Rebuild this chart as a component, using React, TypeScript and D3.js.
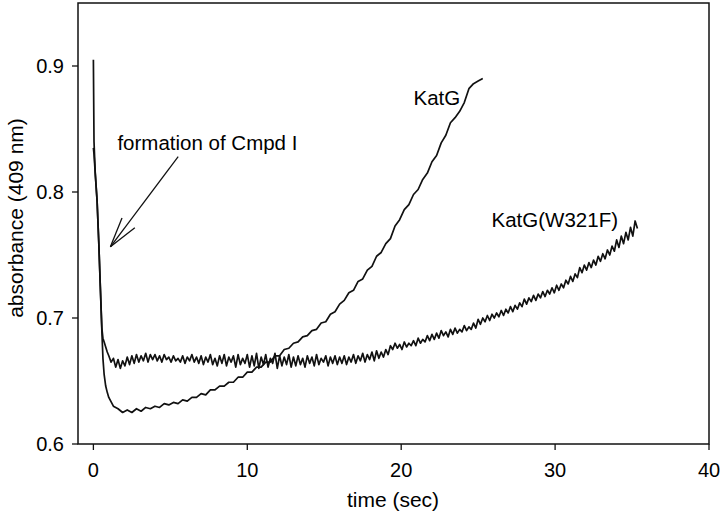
import React from "react";
import * as d3 from "d3";

// ---------- data ----------
const xTicks = [0, 10, 20, 30, 40];
const yTicks = [0.6, 0.7, 0.8, 0.9];
const xDomain = [-1, 40];
const yDomain = [0.6, 0.95];

// initial fast decay (time s, absorbance)
const katgHead: [number, number][] = [
  [0, 0.905], [0.04, 0.84], [0.12, 0.815], [0.24, 0.793], [0.35, 0.76],
  [0.45, 0.725], [0.55, 0.69], [0.62, 0.668], [0.7, 0.655], [0.8, 0.646], [0.9, 0.641],
];
const w321fHead: [number, number][] = [
  [0, 0.835], [0.04, 0.83], [0.12, 0.815], [0.24, 0.793], [0.35, 0.76],
  [0.45, 0.725], [0.55, 0.692], [0.62, 0.684], [0.7, 0.681], [0.8, 0.677], [0.9, 0.673],
];

// sampled traces after 1 s
const katgStart = 1.0;
const katgStep = 0.3;
const katgValues = [
  0.637, 0.630, 0.628, 0.625, 0.627, 0.625, 0.628, 0.626, 0.629, 0.628,
  0.630, 0.629, 0.632, 0.631, 0.633, 0.632, 0.635, 0.634, 0.637, 0.637,
  0.640, 0.639, 0.643, 0.643, 0.646, 0.646, 0.649, 0.649, 0.653, 0.653,
  0.657, 0.657, 0.661, 0.661, 0.665, 0.665, 0.670, 0.670, 0.675, 0.676,
  0.680, 0.681, 0.685, 0.686, 0.690, 0.691, 0.696, 0.697, 0.703, 0.705,
  0.711, 0.714, 0.720, 0.722, 0.729, 0.731, 0.738, 0.741, 0.749, 0.752,
  0.759, 0.763, 0.773, 0.778, 0.786, 0.790, 0.798, 0.802, 0.810, 0.815,
  0.824, 0.829, 0.839, 0.845, 0.855, 0.859, 0.864, 0.871, 0.882, 0.886,
  0.888, 0.890,
];

const w321fStart = 1.0;
const w321fStep = 0.15;
const w321fValues = [
  0.670, 0.665, 0.668, 0.661, 0.667, 0.660, 0.666, 0.662, 0.669, 0.663, 0.670, 0.664, 0.671, 0.665, 0.670, 0.666, 0.672, 0.665, 0.671, 0.667,
  0.671, 0.666, 0.670, 0.665, 0.671, 0.667, 0.669, 0.665, 0.670, 0.666, 0.668, 0.665, 0.670, 0.664, 0.669, 0.666, 0.671, 0.665, 0.669, 0.664,
  0.670, 0.663, 0.669, 0.665, 0.671, 0.663, 0.668, 0.662, 0.670, 0.664, 0.671, 0.662, 0.669, 0.665, 0.670, 0.661, 0.671, 0.663, 0.668, 0.664,
  0.671, 0.661, 0.670, 0.662, 0.672, 0.660, 0.669, 0.663, 0.671, 0.661, 0.668, 0.664, 0.672, 0.660, 0.670, 0.662, 0.669, 0.663, 0.671, 0.661,
  0.669, 0.662, 0.670, 0.663, 0.668, 0.661, 0.670, 0.664, 0.669, 0.662, 0.671, 0.663, 0.668, 0.665, 0.670, 0.662, 0.669, 0.664, 0.670, 0.663,
  0.669, 0.664, 0.670, 0.663, 0.669, 0.665, 0.671, 0.664, 0.670, 0.666, 0.672, 0.665, 0.671, 0.667, 0.673, 0.666, 0.674, 0.668, 0.673, 0.669,
  0.675, 0.671, 0.678, 0.675, 0.680, 0.676, 0.679, 0.675, 0.681, 0.677, 0.680, 0.678, 0.682, 0.678, 0.684, 0.680, 0.683, 0.681, 0.686, 0.682,
  0.687, 0.683, 0.688, 0.684, 0.690, 0.686, 0.689, 0.685, 0.691, 0.687, 0.692, 0.688, 0.691, 0.689, 0.694, 0.690, 0.693, 0.691, 0.696, 0.692,
  0.699, 0.695, 0.700, 0.697, 0.702, 0.698, 0.703, 0.700, 0.704, 0.701, 0.706, 0.702, 0.707, 0.704, 0.709, 0.705, 0.710, 0.707, 0.712, 0.709,
  0.715, 0.711, 0.716, 0.713, 0.718, 0.714, 0.719, 0.716, 0.721, 0.717, 0.722, 0.719, 0.724, 0.720, 0.726, 0.722, 0.727, 0.724, 0.730, 0.727,
  0.733, 0.729, 0.735, 0.732, 0.740, 0.736, 0.742, 0.738, 0.744, 0.740, 0.746, 0.742, 0.749, 0.745, 0.751, 0.747, 0.754, 0.750, 0.757, 0.753,
  0.762, 0.756, 0.765, 0.759, 0.768, 0.762, 0.772, 0.765, 0.777, 0.771,
];

// annotations (data units)
const labelKatG = { text: "KatG", t: 20.8, v: 0.869 };
const labelW321F = { text: "KatG(W321F)", t: 25.87, v: 0.772 };
const labelCmpd = { text: "formation of Cmpd I", t: 1.56, v: 0.833 };
const arrowFrom = { t: 5.51, v: 0.828 };
const arrowTo = { t: 1.106, v: 0.7565 };

// ---------- chart ----------
const W = 720;
const H = 518;
const M = { left: 78, right: 709, top: 3, bottom: 444 };
const FONT = "'Liberation Sans', Arial, sans-serif";

export default function App() {
  const x = d3.scaleLinear().domain(xDomain).range([M.left, M.right]);
  const y = d3.scaleLinear().domain(yDomain).range([M.bottom, M.top]);

  const katg: [number, number][] = [
    ...katgHead,
    ...katgValues.map((v, i) => [katgStart + i * katgStep, v] as [number, number]),
  ];
  const w321f: [number, number][] = [
    ...w321fHead,
    ...w321fValues.map((v, i) => [w321fStart + i * w321fStep, v] as [number, number]),
  ];

  const line = d3
    .line<[number, number]>()
    .x((d) => x(d[0]))
    .y((d) => y(d[1]));

  // arrow geometry
  const ax1 = x(arrowFrom.t), ay1 = y(arrowFrom.v);
  const ax2 = x(arrowTo.t), ay2 = y(arrowTo.v);
  const ang = Math.atan2(ay1 - ay2, ax1 - ax2);
  const headLen = 31;
  const spread = (15 * Math.PI) / 180;
  const b1 = [ax2 + headLen * Math.cos(ang - spread), ay2 + headLen * Math.sin(ang - spread)];
  const b2 = [ax2 + headLen * Math.cos(ang + spread), ay2 + headLen * Math.sin(ang + spread)];

  const stroke = "#111";

  return (
    <svg
      width={W}
      height={H}
      style={{ position: "absolute", left: 0, top: 0, background: "#fff" }}
      fontFamily={FONT}
    >
      <rect x={0} y={0} width={W} height={H} fill="#fff" />
      {/* frame */}
      <rect
        x={M.left}
        y={M.top}
        width={M.right - M.left}
        height={M.bottom - M.top}
        fill="none"
        stroke={stroke}
        strokeWidth={1.5}
      />
      {/* y ticks */}
      {yTicks.map((t) => (
        <g key={"y" + t}>
          <line x1={M.left - 6} x2={M.left} y1={y(t)} y2={y(t)} stroke={stroke} strokeWidth={1.3} />
          <text x={M.left - 14} y={y(t)} dy="0.36em" textAnchor="end" fontSize={20} fill="#000">
            {d3.format(".1f")(t)}
          </text>
        </g>
      ))}
      {/* x ticks */}
      {xTicks.map((t) => (
        <g key={"x" + t}>
          <line x1={x(t)} x2={x(t)} y1={M.bottom} y2={M.bottom + 6} stroke={stroke} strokeWidth={1.3} />
          <text x={x(t)} y={M.bottom + 33} textAnchor="middle" fontSize={20} fill="#000">
            {t}
          </text>
        </g>
      ))}
      {/* axis titles */}
      <text x={393} y={507} textAnchor="middle" fontSize={21} fill="#000">
        time (sec)
      </text>
      <text
        transform={`translate(23, ${218}) rotate(-90)`}
        textAnchor="middle"
        fontSize={21}
        fill="#000"
      >
        absorbance (409 nm)
      </text>

      {/* traces */}
      <path d={line(w321f) || ""} fill="none" stroke={stroke} strokeWidth={1.7} strokeLinejoin="round" />
      <path d={line(katg) || ""} fill="none" stroke={stroke} strokeWidth={1.7} strokeLinejoin="round" />

      {/* labels */}
      <text x={x(labelKatG.t)} y={y(labelKatG.v)} fontSize={20.5} fill="#000">
        {labelKatG.text}
      </text>
      <text x={x(labelW321F.t)} y={y(labelW321F.v)} fontSize={20.5} fill="#000">
        {labelW321F.text}
      </text>
      <text x={x(labelCmpd.t)} y={y(labelCmpd.v)} fontSize={20.5} fill="#000">
        {labelCmpd.text}
      </text>

      {/* arrow */}
      <line x1={ax1} y1={ay1} x2={ax2} y2={ay2} stroke={stroke} strokeWidth={1.3} />
      <line x1={ax2} y1={ay2} x2={b1[0]} y2={b1[1]} stroke={stroke} strokeWidth={1.3} />
      <line x1={ax2} y1={ay2} x2={b2[0]} y2={b2[1]} stroke={stroke} strokeWidth={1.3} />
    </svg>
  );
}
